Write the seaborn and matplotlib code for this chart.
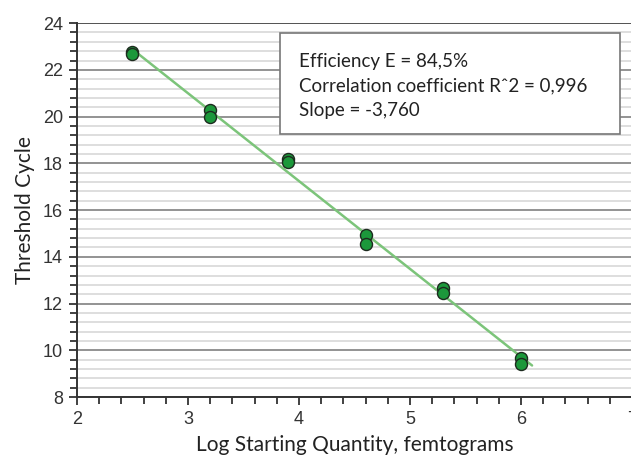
import numpy as np
import pandas as pd
import matplotlib.pyplot as plt
import seaborn as sns
from matplotlib.ticker import MultipleLocator
from matplotlib.patches import Rectangle

# standard curve replicates (log quantity vs Ct)
log_quantity = [2.5, 2.5, 3.2, 3.2, 3.9, 3.9, 4.6, 4.6, 5.3, 5.3, 6.0, 6.0]
threshold_cycle = [22.75, 22.7, 20.3, 19.98, 18.2, 18.05, 14.93, 14.55, 12.65, 12.45, 9.68, 9.4]
fit_range = [2.5, 6.1]
stats_lines = [
    "Efficiency E = 84,5%",
    "Correlation coefficient R\u02c62 = 0,996",
    "Slope = -3,760",
]

sns.set_theme(style="white")
plt.rcParams["font.family"] = ["Lato", "DejaVu Sans"]

df = pd.DataFrame({"x": log_quantity, "y": threshold_cycle})
slope, intercept = np.polyfit(df["x"], df["y"], 1)
fit = pd.DataFrame({"x": fit_range})
fit["y"] = intercept + slope * fit["x"]

fig = plt.figure(figsize=(6.31, 4.63), dpi=100)
ax = fig.add_axes([0.122, 0.1425, 0.8795, 0.8075])

ax.set_xlim(2, 7)
ax.set_ylim(8, 24)
ax.yaxis.set_major_locator(MultipleLocator(2))
ax.yaxis.set_minor_locator(MultipleLocator(0.4))
ax.xaxis.set_major_locator(MultipleLocator(1))
ax.xaxis.set_minor_locator(MultipleLocator(0.2))

ax.grid(True, axis="y", which="minor", color="#d4d4d4", linewidth=1.1)
ax.grid(True, axis="y", which="major", color="#8a8a8a", linewidth=1.3)
ax.set_axisbelow(True)

sns.lineplot(data=fit, x="x", y="y", ax=ax, color="#7cc47a", linewidth=1.8, zorder=3)
sns.scatterplot(data=df, x="x", y="y", ax=ax, s=75, color="#1c983b",
                edgecolor="#1d2b1f", linewidth=1.0, zorder=4)

for side in ["top", "right"]:
    ax.spines[side].set_visible(False)
for side in ["left", "bottom"]:
    ax.spines[side].set_color("#333333")
    ax.spines[side].set_linewidth(1.4)
ax.axhline(24, color="#555555", linewidth=1.4, zorder=2)

ax.tick_params(which="major", direction="out", length=6, width=1.3, color="#333333",
               left=True, bottom=True, labelsize=13, labelcolor="#333333", pad=4)
ax.tick_params(which="minor", direction="out", length=5, width=1.3, color="#333333",
               left=True, bottom=True)
for lab in ax.get_xticklabels() + ax.get_yticklabels():
    lab.set_family(["Liberation Sans", "DejaVu Sans"])

ax.set_xlabel("Log Starting Quantity, femtograms", fontsize=15, color="#222222", labelpad=5)
ax.set_ylabel("Threshold Cycle", fontsize=15, color="#222222", labelpad=6)

# statistics box
box = Rectangle((0.365, 0.703), 0.613, 0.27, transform=ax.transAxes, facecolor="white",
                edgecolor="#777777", linewidth=1.2, zorder=5)
ax.add_patch(box)
ax.text(0.40, 0.92, "\n".join(stats_lines), transform=ax.transAxes, fontsize=13.5,
        color="#222222", va="top", ha="left", linespacing=1.55, zorder=6)

fig.savefig("out.png", dpi=100)
